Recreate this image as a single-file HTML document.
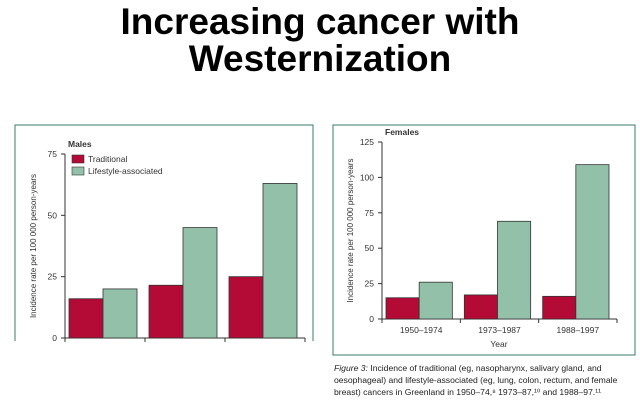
<!DOCTYPE html>
<html><head><meta charset="utf-8"><style>
body{margin:0;background:#fff;width:640px;height:402px;overflow:hidden}
svg{display:block;font-family:"Liberation Sans",sans-serif}
</style></head><body>
<svg id="s" width="640" height="402">
<text x="320" y="34" text-anchor="middle" font-size="37" font-weight="bold">Increasing cancer with</text>
<text x="320" y="71" text-anchor="middle" font-size="37" font-weight="bold">Westernization</text>
<rect x="15" y="125" width="298" height="230" fill="none" stroke="#5a8f86" stroke-width="1.2"/>
<rect x="333" y="125" width="302" height="230" fill="none" stroke="#5a8f86" stroke-width="1.2"/>
<rect x="0" y="341" width="330" height="61" fill="#fff"/>
<g id="m"></g>
<g id="f"></g>
<g font-size="8.6" fill="#222">
<text x="334" y="371"><tspan font-style="italic">Figure 3:</tspan> Incidence of traditional (eg, nasopharynx, salivary gland, and</text>
<text x="334" y="383">oesophageal) and lifestyle-associated (eg, lung, colon, rectum, and female</text>
<text x="334" y="395">breast) cancers in Greenland in 1950–74,⁸ 1973–87,¹⁰ and 1988–97.¹¹</text>
</g>
</svg>
<script>
const categories = ["1950–1974", "1973–1987", "1988–1997"];
const maleTraditional = [16, 21.5, 25];
const maleLifestyle = [20, 45, 63];
const maleTicks = [0, 25, 50, 75];
const femaleTraditional = [15, 17, 16];
const femaleLifestyle = [26, 69, 109];
const femaleTicks = [0, 25, 50, 75, 100, 125];
const NS = "http://www.w3.org/2000/svg";
function mk(p, t, a, txt) { const e = document.createElementNS(NS, t); for (const k in a) e.setAttribute(k, a[k]); if (txt !== undefined) e.textContent = txt; p.appendChild(e); return e; }
function chart(g, cfg, trad, life, ticks, showLabels) {
  const y = v => cfg.y0 - v / cfg.max * (cfg.y0 - cfg.yTop);
  const gw = (cfg.x1 - cfg.x0) / categories.length;
  let ax = mk(g, "line", {x1: cfg.x0, y1: cfg.y0, x2: cfg.x1, y2: cfg.y0, stroke: "#333"});
  
  
  let ay = mk(g, "line", {x1: cfg.x0, y1: cfg.yTop, x2: cfg.x0, y2: cfg.y0, stroke: "#333"});
  
  
  ticks.forEach(t => {
    mk(g, "line", {x1: cfg.x0 - 4, y1: y(t), x2: cfg.x0, y2: y(t), stroke: "#333"});
    let tl = mk(g, "text", {x: cfg.x0 - 8, y: y(t) + 3, "text-anchor": "end", "font-size": 8.5, fill: "#333"}, t);
    
    
  });
  for (let i = 0; i <= categories.length; i++) mk(g, "line", {x1: cfg.x0 + gw * i, y1: cfg.y0, x2: cfg.x0 + gw * i, y2: cfg.y0 + 4, stroke: "#333"});
  categories.forEach((c, i) => {
    const gx = cfg.x0 + gw * i + 4, bw = (gw - 12) / 2;
    let r1 = mk(g, "rect", {x: gx, y: y(trad[i]), width: bw, height: cfg.y0 - y(trad[i]), fill: "#b30a36", stroke: "#333", "stroke-width": 0.8});
    
    
    let r2 = mk(g, "rect", {x: gx + bw, y: y(life[i]), width: bw, height: cfg.y0 - y(life[i]), fill: "#93c0a8", stroke: "#333", "stroke-width": 0.8});
    
    
    if (showLabels) {
      let xl = mk(g, "text", {x: cfg.x0 + gw * (i + 0.5), y: cfg.y0 + 14, "text-anchor": "middle", "font-size": 8.5, fill: "#333"}, c);
      
      
    }
  });
  let yt = mk(g, "text", {transform: `translate(${cfg.x0 - 29},${(cfg.y0 + cfg.yTop) / 2}) rotate(-90)`, "text-anchor": "middle", "font-size": 8, fill: "#333"}, "Incidence rate per 100 000 person-years");
  
  
  let pt = mk(g, "text", {x: cfg.x0 + 3, y: cfg.yTop - 7, "font-size": 8.5, "font-weight": "bold", fill: "#333"}, cfg.title);
  
  
}
chart(document.getElementById("m"), {x0: 65, x1: 305, y0: 338, yTop: 154, max: 75, title: "Males"}, maleTraditional, maleLifestyle, maleTicks, false);
chart(document.getElementById("f"), {x0: 382, x1: 617, y0: 319, yTop: 142, max: 125, title: "Females"}, femaleTraditional, femaleLifestyle, femaleTicks, true);
const f = document.getElementById("f");
let yr = mk(f, "text", {x: 499, y: 347, "text-anchor": "middle", "font-size": 8.5, fill: "#333"}, "Year");


const m = document.getElementById("m");
const leg = mk(m, "g", {});


let l1 = mk(leg, "rect", {x: 72, y: 155, width: 12, height: 8, fill: "#b30a36", stroke: "#333", "stroke-width": 0.6});


mk(leg, "text", {x: 88, y: 162, "font-size": 8.5, fill: "#333"}, "Traditional");
let l2 = mk(leg, "rect", {x: 72, y: 167, width: 12, height: 8, fill: "#93c0a8", stroke: "#333", "stroke-width": 0.6});


mk(leg, "text", {x: 88, y: 174, "font-size": 8.5, fill: "#333"}, "Lifestyle-associated");
</script>
</body></html>
